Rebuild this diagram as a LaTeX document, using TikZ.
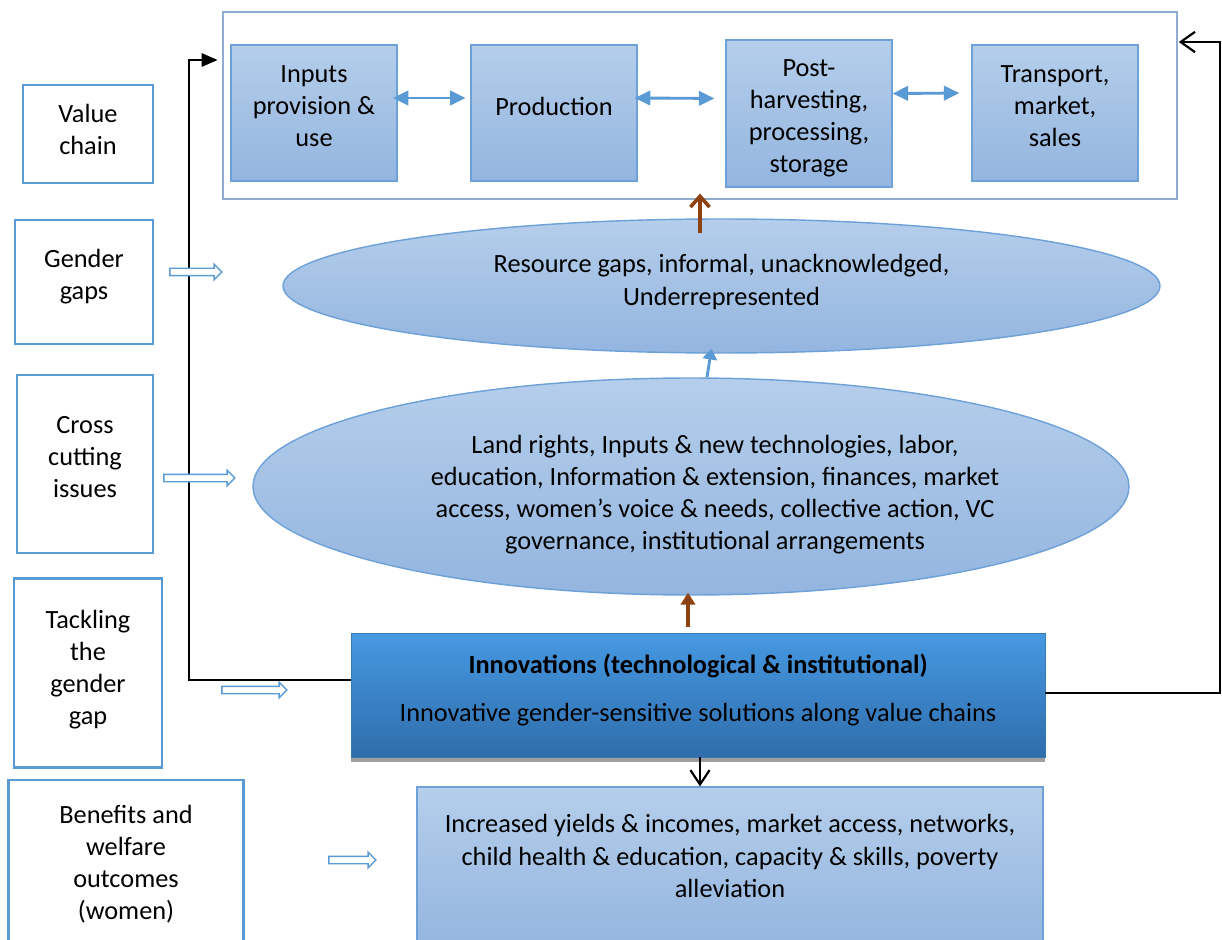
\documentclass[tikz,border=0pt]{standalone}
\usepackage{fontspec}
\setmainfont{Carlito}
\usetikzlibrary{arrows.meta,shapes.geometric,shapes.arrows,shadows}

% one unit of the picture = one screen pixel
\newcommand{\unitpx}{0.418pt}

\definecolor{sideline}{HTML}{5B9BD5}
\definecolor{frameline}{HTML}{8FADD0}
\definecolor{stageline}{HTML}{6FA1D9}
\definecolor{stagetop}{HTML}{B5CEEB}
\definecolor{stagebot}{HTML}{93B5DF}
\definecolor{innovtop}{HTML}{4699E2}
\definecolor{innovbot}{HTML}{2F6DAC}
\definecolor{arrowblue}{HTML}{5B9BD5}
\definecolor{arrowbrown}{HTML}{8E4210}

\begin{document}
\begin{tikzpicture}[
  x=\unitpx, y=-\unitpx,
  font=\fontsize{11pt}{13.4pt}\selectfont,
  % ---- node styles ----
  txt/.style={align=center, inner sep=0pt},
  sidebox/.style={
    draw=sideline, line width=0.85pt, fill=white
  },
  framebox/.style={
    draw=frameline, line width=0.5pt, fill=white,
    minimum width={954*\unitpx}, minimum height={187*\unitpx}
  },
  stagebox/.style={
    draw=stageline, line width=0.5pt,
    top color=stagetop, bottom color=stagebot,
    minimum width={166*\unitpx}, minimum height={136*\unitpx}
  },
  gapell/.style={
    ellipse, draw=stageline, line width=0.6pt,
    top color=stagetop, bottom color=stagebot, inner sep=0pt
  },
  innovbox/.style={
    draw=innovtop!80!black, line width=0.4pt,
    top color=innovtop, bottom color=innovbot,
    drop shadow={shadow xshift=0pt, shadow yshift=-2.2pt,
      fill=gray!75, opacity=1},
    minimum width={694*\unitpx}, minimum height={124*\unitpx}
  },
  hollow/.style={
    single arrow, draw=arrowblue, fill=white, line width=0.6pt,
    inner sep={3*\unitpx}, single arrow head extend={4*\unitpx}
  },
  % ---- connector styles ----
  twoway/.style={
    {Triangle[length=6.5pt,width=6pt]}-{Triangle[length=6.5pt,width=6pt]},
    line width=1.2pt, arrowblue
  },
  brownup/.style={line width=1.8pt, arrowbrown},
  blueup/.style={
    -{Triangle[length=4.5pt,width=6pt]}, line width=1.2pt, arrowblue
  },
  loopline/.style={line width=0.9pt, black},
]
\useasboundingbox (0,0) rectangle (1222,940);
\clip (0,0) rectangle (1222,940);

% ---- Labels on the left ----
\node[sidebox, minimum width={130*\unitpx}, minimum height={98*\unitpx},
  label={[txt, yshift={5*\unitpx}]center:Value\\chain}] (lvc) at (88,134) {};
\node[sidebox, minimum width={138*\unitpx}, minimum height={124*\unitpx},
  label={[txt, yshift={5*\unitpx}]center:Gender\\gaps}] (lgg) at (84,282) {};
\node[sidebox, minimum width={136*\unitpx}, minimum height={178*\unitpx},
  label={[txt, yshift={6.5*\unitpx}]center:Cross\\cutting\\issues}] (lcc) at (85,464) {};
\node[sidebox, minimum width={148*\unitpx}, minimum height={189*\unitpx},
  label={[txt, yshift={3.5*\unitpx}]center:Tackling\\the\\gender\\gap}] (ltg) at (88,673) {};
\node[sidebox, minimum width={235*\unitpx}, minimum height={170*\unitpx},
  label={[txt, yshift={1*\unitpx}]center:Benefits and\\welfare\\outcomes\\(women)}] (lbw) at (126,865) {};

% ---- Value chain stages ----
\node[framebox] (chain) at (700,105.5) {};
\node[stagebox, label={[txt, yshift={7*\unitpx}]center:Inputs\\provision \&\\use}]
  (inputs) at (314,113) {};
\node[stagebox, label={[txt, yshift={7*\unitpx}]center:Production}]
  (prod) at (554,113) {};
\node[stagebox, minimum height={147*\unitpx},
  label={[txt, yshift={-5*\unitpx}]center:Post-\\harvesting,\\processing,\\storage}]
  (post) at (809,113.5) {};
\node[stagebox, label={[txt, yshift={7*\unitpx}]center:Transport,\\market,\\sales}]
  (trans) at (1055,113) {};

\draw[twoway, shorten <=-2pt, shorten >=2pt]
  ([shift={(0,-15)}]inputs.east) -- ([shift={(0,-15)}]prod.west);
\draw[twoway, shorten <=-1.2pt, shorten >=4.6pt]
  ([shift={(0,-15)}]prod.east) -- ([shift={(0,-15)}]post.west);
\draw[twoway, shorten <=0pt, shorten >=5pt]
  ([shift={(0,-20)}]post.east) -- ([shift={(0,-20)}]trans.west);

% ---- Gender gaps and cross cutting issues ----
\node[gapell, minimum width={877*\unitpx}, minimum height={134*\unitpx},
  label={[txt, yshift={4*\unitpx}]center:Resource gaps, informal, unacknowledged,\\Underrepresented}]
  (gaps) at (721.5,286) {};
\node[gapell, minimum width={876*\unitpx}, minimum height={217*\unitpx},
  label={[txt, xshift={24*\unitpx}, yshift={-8*\unitpx}]center:Land rights, Inputs \& new technologies, labor,\\
   education, Information \& extension, finances, market\\
   access, women’s voice \& needs, collective action, VC\\
   governance, institutional arrangements}]
  (issues) at (691,486.5) {};

% ---- Innovations ----
\node[innovbox,
  label={[txt, yshift={5*\unitpx}]center:\textbf{Innovations (technological \& institutional)}\\[6.6pt]
   Innovative gender-sensitive solutions along value chains}]
  (innov) at (698,695) {};

% ---- Outcomes ----
\node[stagebox, minimum width={626*\unitpx}, minimum height={162*\unitpx},
  label={[txt, yshift={12*\unitpx}]center:Increased yields \& incomes, market access, networks,\\
   child health \& education, capacity \& skills, poverty\\
   alleviation}]
  (outcomes) at (730,868) {};

% ---- Upward links ----
\draw[brownup, -{Triangle[length=5pt,width=6pt]}]
  ([shift={(-10,-6)}]innov.north) -- ([shift={(-3,-3)}]issues.south);
\draw[blueup] ([shift={(16,0)}]issues.north) -- ([shift={(-10,-5)}]gaps.south);
\draw[brownup, line width=1.5pt, -{Straight Barb[length=4.5pt,width=8pt]}]
  ([shift={(-21.5,15)}]gaps.north) -- ([shift={(0,-6)}]chain.south);
\draw[-{Straight Barb[length=6pt,width=8pt]}, line width=0.9pt]
  ([shift={(2,0)}]innov.south) -- ([shift={(2,0)}]innov.south |- outcomes.north);

% ---- Feedback loops to the value chain ----
\coordinate (lbend) at (189,60);
\coordinate (rbend) at (1220,42);
\draw[loopline, -{Triangle[length=6.7pt,width=5.6pt]}, shorten >=2pt]
  ([shift={(0,-15)}]innov.west) -| (lbend) -- (lbend -| chain.west);
\draw[loopline, -{Straight Barb[length=6pt,width=8.5pt]}, shorten >=0.5pt]
  ([shift={(0,-2)}]innov.east) -| (rbend) -- (rbend -| chain.east);

% ---- Hollow pointers from the labels ----
\node[hollow, minimum height={52*\unitpx}] (pgg) at (194,272) {};
\node[hollow, minimum height={71*\unitpx}] (pcc) at (197.5,478) {};
\node[hollow, minimum height={65*\unitpx}] (ptg) at (252.5,690) {};
\node[hollow, minimum height={47*\unitpx}] (pbw) at (350.5,860) {};

\end{tikzpicture}
\end{document}
